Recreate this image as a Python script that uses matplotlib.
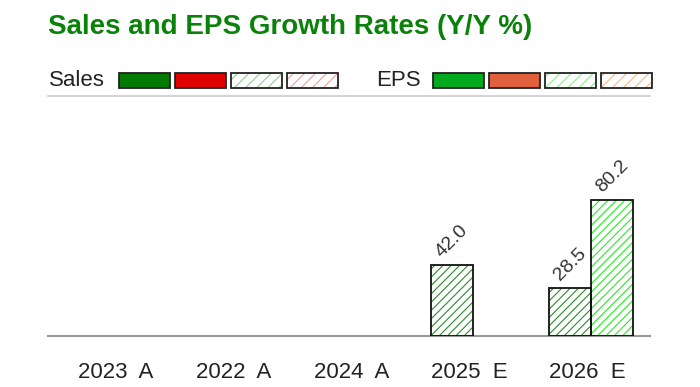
import numpy as np
import matplotlib
matplotlib.use("Agg")
import matplotlib.pyplot as plt
from matplotlib.patches import Rectangle

plt.rcParams['font.family'] = ['Liberation Sans', 'DejaVu Sans']
plt.rcParams['hatch.linewidth'] = 0.8

# data
years = ['2023  A', '2022  A', '2024  A', '2025  E', '2026  E']
sales_growth = [np.nan, np.nan, np.nan, 42.0, 28.5]
eps_growth = [np.nan, np.nan, np.nan, np.nan, 80.2]

W, H = 700, 387
fig = plt.figure(figsize=(W / 100, H / 100), dpi=100)

def px(x, y):
    # pixel coords (from top-left) -> figure fraction
    return x / W, 1 - y / H

# axes from x=48..650, y=96..336
ax = fig.add_axes([48 / W, 1 - 336 / H, 602 / W, 240 / H])

x = np.arange(len(years))
bw = 0.356

def hatched_bars(xpos, vals, hatch_col):
    ax.bar(xpos, vals, bw, color='white', edgecolor=hatch_col, hatch='////',
           linewidth=0, zorder=2)
    ax.bar(xpos, vals, bw, fill=False, edgecolor='#111111', linewidth=1.3, zorder=3)
    for xi, v in zip(xpos, vals):
        if np.isnan(v):
            continue
        ax.annotate(f'{v:.1f}', (xi, v), xytext=(0, 3), textcoords='offset points',
                    rotation=45, ha='center', va='bottom', fontsize=14, color='#333333')

hatched_bars(x - bw / 2, sales_growth, '#2a8a2a')
hatched_bars(x + bw / 2, eps_growth, '#22ee22')

ax.set_xlim(-0.6, 4.5)
ax.set_ylim(0, 142)
# labels sit a touch left of the group centres
ax.set_xticks(x - 0.03)
ax.set_xticklabels(years, fontsize=16, color='#222222')
ax.tick_params(axis='x', length=0, pad=19)
ax.set_yticks([])
for s in ['left', 'right']:
    ax.spines[s].set_visible(False)
ax.spines['bottom'].set_color('#999999')
ax.spines['bottom'].set_linewidth(1.5)
ax.spines['top'].set_color('#cccccc')
ax.spines['top'].set_linewidth(1.2)

# title
tx, ty = px(48, 14)
fig.text(tx, ty, 'Sales and EPS Growth Rates (Y/Y %)', fontsize=20, fontweight='bold',
         color='#0a820a', va='top', ha='left')

# legend row
def legend_group(label, lx, box_x0, styles):
    fx, fy = px(lx, 80)
    fig.text(fx, fy, label, fontsize=16, color='#222222', va='center', ha='left')
    for i, (fc, hc) in enumerate(styles):
        bx = box_x0 + i * 56
        x0, y0 = px(bx, 88)
        bwf, bhf = 51 / W, 15 / H
        if hc is None:
            fig.patches.append(Rectangle((x0, y0), bwf, bhf, transform=fig.transFigure,
                                         facecolor=fc, edgecolor='#222222', linewidth=1.3))
        else:
            fig.patches.append(Rectangle((x0, y0), bwf, bhf, transform=fig.transFigure,
                                         facecolor='white', edgecolor=hc, hatch='///',
                                         linewidth=0))
            fig.patches.append(Rectangle((x0, y0), bwf, bhf, transform=fig.transFigure,
                                         fill=False, edgecolor='#222222', linewidth=1.3))

legend_group('Sales', 49, 119, [('#007a00', None), ('#e00000', None),
                                ('white', '#8fcf8f'), ('white', '#eba0a0')])
legend_group('EPS', 376, 433, [('#00aa1e', None), ('#e0603e', None),
                               ('white', '#88f088'), ('white', '#f8b888')])

fig.savefig('out.png', dpi=100)
